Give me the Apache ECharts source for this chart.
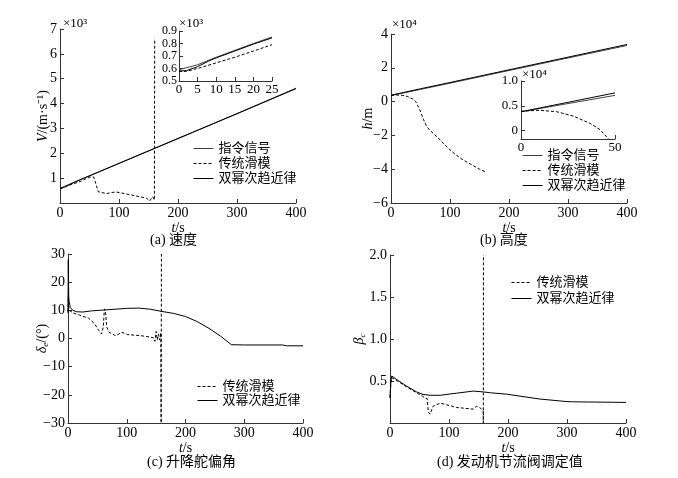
<!DOCTYPE html>
<html>
<head>
<meta charset="utf-8">
<script src="https://cdn.jsdelivr.net/npm/echarts@6/dist/echarts.min.js"></script>
<style>
  html, body { margin: 0; padding: 0; background: #fff; }
  #main { width: 678px; height: 478px; }
</style>
</head>
<body>
<div id="main"></div>
<script>
// (a) 速度, V ×10^3 m/s
const vCmd = [[0, 0.59], [25, 0.85], [100, 1.6], [200, 2.6], [300, 3.6], [400, 4.62]];
const vTrad = [[0, 0.58], [20, 0.75], [34, 0.86], [51, 1.05], [57, 1.05], [60, 0.99], [63, 0.6], [65, 0.45], [67, 0.38],
  [79, 0.38], [90, 0.43], [96, 0.44], [113, 0.36], [136, 0.25], [147, 0.19], [152, 0.08], [157, 0.25], [160, 0.12], [160.5, 6.62]];
const vSmc = [[0, 0.57], [5, 0.61], [25, 0.84], [100, 1.59], [200, 2.59], [300, 3.59], [400, 4.6]];
// (a) 局部放大 0~25 s
const vCmdZoom = [[0, 0.59], [5, 0.63], [10, 0.69], [15, 0.745], [20, 0.8], [25, 0.852]];
const vTradZoom = [[0, 0.575], [2, 0.578], [5, 0.6], [10, 0.645], [15, 0.69], [20, 0.74], [25, 0.79]];
const vSmcZoom = [[0, 0.58], [2, 0.583], [5, 0.615], [8, 0.66], [10, 0.685], [15, 0.74], [20, 0.795], [25, 0.845]];

// (b) 高度, h ×10^4 m
const hCmd = [[0, 0.36], [50, 0.72], [100, 1.09], [200, 1.84], [300, 2.58], [400, 3.32]];
const hTrad = [[0, 0.37], [10, 0.39], [20, 0.37], [28, 0.3], [37, 0.15], [42, 0], [49, -0.5], [55, -1.05], [60, -1.45],
  [66, -1.7], [80, -2.15], [95, -2.7], [110, -3.15], [122, -3.45], [140, -3.8], [150, -4.0], [160, -4.15]];
const hSmc = [[0, 0.38], [50, 0.76], [100, 1.13], [200, 1.88], [300, 2.63], [400, 3.38]];
// (b) 局部放大 0~50 s
const hCmdZoom = [[0, 0.38], [50, 0.71]];
const hTradZoom = [[0, 0.39], [10, 0.41], [19, 0.38], [28, 0.29], [37, 0.14], [42, 0.02], [46.6, -0.17]];
const hSmcZoom = [[0, 0.38], [50, 0.76]];

// (c) 升降舵偏角 δe (°)
const deTrad = [[0, 9.5], [0.5, 15], [1.5, 10], [10, 9], [20, 8.3], [35, 7.2], [45, 5.3], [52, 3], [57, 1.6], [60, 4],
  [62, 10.5], [64, 9], [66, 4], [70, 2.2], [81, 1.0], [92, 2.2], [101, 1.4], [124, 1.0], [140, 0.5], [146, 0.2],
  [148, -1], [150, 2.5], [152, -0.5], [154, 1.5], [156, -0.5], [158, 2], [158.5, -30], [159, 30]];
const deSmc = [[0, 9], [0.5, 28], [1.2, 15], [2, 13], [4, 11], [8, 10], [15, 9.5], [25, 9.4], [40, 9.8], [60, 10.1],
  [80, 10.4], [100, 10.7], [120, 10.8], [140, 10.4], [160, 9.6], [180, 8.9], [200, 7.8], [220, 6.0], [240, 3.6],
  [260, 0.8], [278, -2.2], [300, -2.3], [365, -2.3], [372, -2.6], [400, -2.6]];

// (d) 发动机节流阀调定值 βc
const btTrad = [[0, 0.3], [1.5, 0.48], [3, 0.54], [6, 0.53], [15, 0.49], [28, 0.43], [45, 0.36], [55, 0.32], [59, 0.3],
  [63, 0.29], [65, 0.13], [68, 0.106], [73, 0.2], [85, 0.236], [96, 0.217], [113, 0.185], [141, 0.165], [147, 0.2],
  [152, 0.185], [158, 0.146], [158.2, 0], [158.4, 2]];
const btSmc = [[0, 0.3], [1.5, 0.5], [3, 0.56], [6, 0.54], [15, 0.5], [28, 0.44], [45, 0.37], [56, 0.34], [68, 0.33],
  [85, 0.33], [113, 0.355], [141, 0.38], [158, 0.37], [170, 0.36], [198, 0.343], [254, 0.285], [300, 0.255],
  [311, 0.252], [400, 0.245]];

const FONT = "'Liberation Serif','Noto Sans CJK SC',serif";
const AX = '#333';

function minus(v) { return String(v).replace('-', '\u2212'); }

function xAx(grid, min, max, interval, extra) {
  return Object.assign({
    type: 'value', gridIndex: grid, min: min, max: max, interval: interval,
    axisLine: { onZero: false, lineStyle: { color: AX } },
    axisTick: { inside: true, length: 4, lineStyle: { color: AX } },
    splitLine: { show: false },
    axisLabel: { color: '#000', fontSize: 14, margin: 3, fontFamily: FONT, showMinLabel: true, showMaxLabel: true }
  }, extra || {});
}
function yAx(grid, extra) {
  return Object.assign({
    type: 'value', gridIndex: grid,
    axisLine: { onZero: false, lineStyle: { color: AX } },
    axisTick: { inside: true, length: 4, lineStyle: { color: AX } },
    splitLine: { show: false },
    axisLabel: { color: '#000', fontSize: 14, margin: 3, fontFamily: FONT, formatter: minus, showMinLabel: true, showMaxLabel: true }
  }, extra);
}
function ln(name, idx, data, dashed, color) {
  return {
    name: name, type: 'line', xAxisIndex: idx, yAxisIndex: idx, data: data,
    symbol: 'none', silent: true,
    lineStyle: { color: color || '#000', width: 1, type: dashed ? [3, 2] : 'solid' },
    itemStyle: { color: color || '#000' }
  };
}

const tName = {
  name: '{i|t}/s', nameLocation: 'middle', nameGap: 14,
  nameTextStyle: { color: '#000', fontSize: 14, fontFamily: FONT, rich: { i: { fontStyle: 'italic', fontSize: 14, fontFamily: FONT } } }
};
function yName(text, gap) {
  return {
    name: text, nameLocation: 'middle', nameRotate: 90, nameGap: gap, nameMoveOverlap: false,
    nameTextStyle: {
      color: '#000', fontSize: 14, fontFamily: FONT,
      rich: {
        i: { fontStyle: 'italic', fontSize: 14, fontFamily: FONT },
        s: { fontStyle: 'italic', fontSize: 9, fontFamily: FONT, verticalAlign: 'bottom', padding: [6, 0, 0, 0] }
      }
    }
  };
}
function legend(left, top, gap, names) {
  return {
    data: names, orient: 'vertical', left: left, top: top, padding: 0,
    itemWidth: 20, itemHeight: 14, itemGap: gap,
    itemStyle: { opacity: 0 },
    lineStyle: { width: 1 },
    textStyle: { color: '#000', fontSize: 13, fontFamily: FONT }
  };
}
function caption(text, left, top) {
  return { text: text, left: left, top: top, padding: 0,
    textStyle: { color: '#000', fontSize: 14, fontWeight: 'normal', fontFamily: FONT } };
}
function mult(text, left, top) {
  return { type: 'text', left: left, top: top, style: { text: text, fill: '#000', font: '13px ' + FONT } };
}

const insetLabel = { color: '#000', fontSize: 12, lineHeight: 10, margin: 2, fontFamily: FONT, interval: 0,
  showMinLabel: true, showMaxLabel: true, hideOverlap: false };

const chart = echarts.init(document.getElementById('main'));
chart.setOption({
  animation: false,
  backgroundColor: '#fff',
  title: [
    caption('(a) 速度', 150, 233),
    caption('(b) 高度', 480, 233),
    caption('(c) 升降舵偏角', 147, 455),
    caption('(d) 发动机节流阀调定值', 437, 455)
  ],
  legend: [
    legend(193, 142, 2, ['指令信号', '传统滑模', '双幂次趋近律']),
    legend(522, 149, 2, ['指令信号', '传统滑模', '双幂次趋近律']),
    legend(197, 380, 1, ['传统滑模', '双幂次趋近律']),
    legend(511, 276, 3, ['传统滑模', '双幂次趋近律'])
  ],
  graphic: [
    mult('×10³', 63, 17),
    mult('×10³', 179, 17),
    mult('×10⁴', 392, 18),
    mult('×10⁴', 522, 68)
  ],
  grid: [
    { left: 60, top: 29, width: 236, height: 174 },
    { left: 391, top: 34, width: 236, height: 169 },
    { left: 68, top: 254, width: 235, height: 169 },
    { left: 390, top: 255, width: 236, height: 168 },
    { left: 179, top: 31, width: 93, height: 50 },
    { left: 521, top: 81, width: 94, height: 58 }
  ],
  xAxis: [
    xAx(0, 0, 400, 100, tName),
    xAx(1, 0, 400, 100, tName),
    xAx(2, 0, 400, 100, tName),
    xAx(3, 0, 400, 100, tName),
    xAx(4, 0, 25, 5, { axisLabel: Object.assign({}, insetLabel, { fontSize: 13, lineHeight: 13 }) }),
    xAx(5, 0, 50, 50, { axisLabel: Object.assign({}, insetLabel, { fontSize: 13, lineHeight: 13 }) })
  ],
  yAxis: [
    yAx(0, Object.assign({ min: 0, max: 7, interval: 1,
      axisLabel: { color: '#000', fontSize: 14, margin: 3, fontFamily: FONT, showMinLabel: false, showMaxLabel: true } },
      yName('{i|V}/(m·s⁻¹)', 10))),
    yAx(1, Object.assign({ min: -6, max: 4, interval: 2 }, yName('{i|h}/m', 16))),
    yAx(2, Object.assign({ min: -30, max: 30, interval: 10 }, yName('{i|δ}{s|e}/(°)', 18))),
    yAx(3, Object.assign({ min: 0, max: 2, interval: 0.5,
      axisLabel: { color: '#000', fontSize: 14, margin: 3, fontFamily: FONT, showMinLabel: false, showMaxLabel: true,
        formatter: function (v) { return v.toFixed(1); } } },
      yName('{i|β}{s|c}', 23))),
    yAx(4, { min: 0.5, max: 0.9, interval: 0.1,
      axisLabel: Object.assign({}, insetLabel, { formatter: function (v) { return v.toFixed(1); } }) }),
    yAx(5, { min: -0.17, max: 1.0, splitNumber: 2,
      axisLabel: Object.assign({}, insetLabel, { fontSize: 13, lineHeight: 13, margin: 3, showMinLabel: false,
        formatter: function (v) { return v === 0 ? '0' : v.toFixed(1); } }) })
  ],
  series: [
    ln('指令信号', 0, vCmd, false, '#444'),
    ln('传统滑模', 0, vTrad, true),
    ln('双幂次趋近律', 0, vSmc, false),
    ln('指令信号', 1, hCmd, false, '#444'),
    ln('传统滑模', 1, hTrad, true),
    ln('双幂次趋近律', 1, hSmc, false),
    ln('传统滑模', 2, deTrad, true),
    ln('双幂次趋近律', 2, deSmc, false),
    ln('传统滑模', 3, btTrad, true),
    ln('双幂次趋近律', 3, btSmc, false),
    ln('指令信号', 4, vCmdZoom, false, '#444'),
    ln('传统滑模', 4, vTradZoom, true),
    ln('双幂次趋近律', 4, vSmcZoom, false),
    ln('指令信号', 5, hCmdZoom, false, '#444'),
    ln('传统滑模', 5, hTradZoom, true),
    ln('双幂次趋近律', 5, hSmcZoom, false)
  ]
});
</script>
</body>
</html>
